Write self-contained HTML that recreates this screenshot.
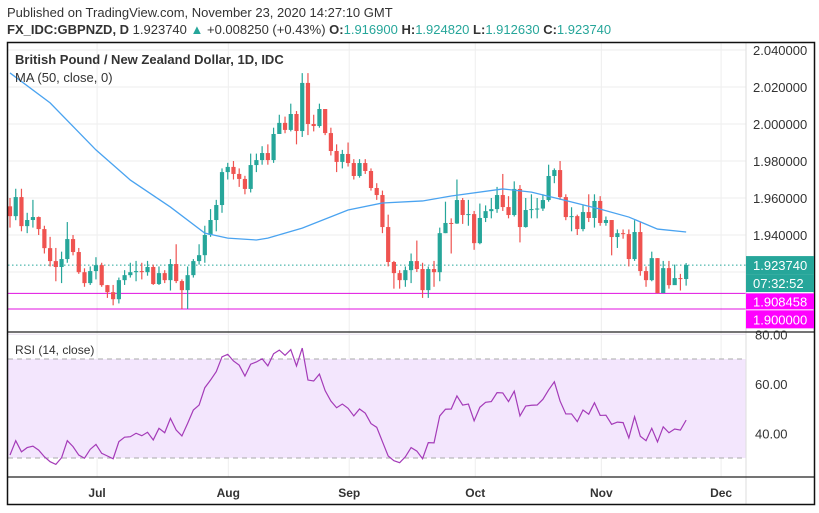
<!DOCTYPE html>
<html><head><meta charset="utf-8"><style>
html,body{margin:0;padding:0;background:#fff;}
svg{display:block;font-family:"Liberation Sans",sans-serif;}
</style></head><body>
<svg id="chart" width="819" height="513" viewBox="0 0 819 513" xmlns="http://www.w3.org/2000/svg">
<text x="7" y="17" font-size="13" fill="#333">Published on TradingView.com, November 23, 2020 14:27:10 GMT</text>
<text x="7" y="34" font-size="13" fill="#333"><tspan font-weight="bold">FX_IDC:GBPNZD, D</tspan> 1.923740 <tspan fill="#26a69a">▲</tspan> +0.008250 (+0.43%) <tspan font-weight="bold">O:</tspan><tspan fill="#26a69a">1.916900</tspan> <tspan font-weight="bold">H:</tspan><tspan fill="#26a69a">1.924820</tspan> <tspan font-weight="bold">L:</tspan><tspan fill="#26a69a">1.912630</tspan> <tspan font-weight="bold">C:</tspan><tspan fill="#26a69a">1.923740</tspan></text>
<g id="grid"></g>
<rect x="8" y="359" width="738" height="99" fill="#f3e6fd"/>
<line x1="8" x2="746" y1="359" y2="359" stroke="#aaa" stroke-dasharray="5,4"/>
<line x1="8" x2="746" y1="458" y2="458" stroke="#aaa" stroke-dasharray="5,4"/>
<g id="marks"></g>
<line x1="746" x2="746" y1="42" y2="505" stroke="#ddd"/>
<line x1="7" x2="815" y1="332" y2="332" stroke="#222" stroke-width="1.2"/>
<line x1="7" x2="815" y1="477" y2="477" stroke="#222" stroke-width="1.2"/>
<rect x="7.5" y="42.5" width="807" height="462" fill="none" stroke="#111" stroke-width="1.5"/>
<text x="15" y="64" font-size="13" font-weight="bold" fill="#333">British Pound / New Zealand Dollar, 1D, IDC</text>
<text x="15" y="82" font-size="13" fill="#333">MA (50, close, 0)</text>
<text x="15" y="354" font-size="12" fill="#333">RSI (14, close)</text>
<g id="labels"></g>
</svg>
<script>
const closes=[1.9502,1.9605,1.9448,1.9481,1.9497,1.9432,1.9329,1.9259,1.9227,1.9270,1.9378,1.9308,1.9199,1.9140,1.9205,1.9237,1.9129,1.9091,1.9053,1.9156,1.9183,1.9199,1.9205,1.9199,1.9227,1.9135,1.9194,1.9156,1.9243,1.9151,1.9102,1.9183,1.9259,1.9291,1.9400,1.9481,1.9562,1.9740,1.9768,1.9730,1.9703,1.9649,1.9778,1.9805,1.9843,1.9805,1.9946,2.0006,1.9968,2.0054,1.9962,2.0222,2.0000,1.9989,2.0081,1.9951,1.9854,1.9795,1.9838,1.9789,1.9719,1.9789,1.9746,1.9654,1.9616,1.9443,1.9254,1.9194,1.9156,1.9210,1.9259,1.9216,1.9102,1.9216,1.9199,1.9410,1.9465,1.9462,1.9589,1.9508,1.9513,1.9356,1.9492,1.9529,1.9540,1.9616,1.9551,1.9508,1.9649,1.9443,1.9535,1.9540,1.9543,1.9589,1.9719,1.9751,1.9605,1.9497,1.9502,1.9432,1.9524,1.9492,1.9584,1.9465,1.9481,1.9389,1.9410,1.9405,1.9270,1.9416,1.9205,1.9156,1.9275,1.9086,1.9221,1.9129,1.9167,1.9162,1.92374];
const highs=[1.9600,1.9650,1.9650,1.9520,1.9590,1.9500,1.9450,1.9390,1.9330,1.9310,1.9470,1.9400,1.9330,1.9220,1.9230,1.9280,1.9250,1.9130,1.9130,1.9170,1.9210,1.9250,1.9260,1.9250,1.9260,1.9240,1.9230,1.9210,1.9270,1.9350,1.9160,1.9230,1.9270,1.9350,1.9450,1.9540,1.9590,1.9760,1.9790,1.9800,1.9760,1.9720,1.9840,1.9840,1.9880,1.9890,1.9980,2.0050,2.0040,2.0110,2.0070,2.0275,2.0275,2.0050,2.0110,2.0080,1.9980,1.9890,1.9860,1.9900,1.9810,1.9810,1.9810,1.9760,1.9680,1.9640,1.9510,1.9260,1.9210,1.9230,1.9300,1.9370,1.9250,1.9230,1.9260,1.9440,1.9580,1.9490,1.9700,1.9600,1.9590,1.9530,1.9570,1.9560,1.9600,1.9660,1.9730,1.9610,1.9690,1.9670,1.9600,1.9620,1.9600,1.9620,1.9780,1.9760,1.9800,1.9620,1.9550,1.9510,1.9560,1.9620,1.9620,1.9610,1.9500,1.9480,1.9430,1.9430,1.9430,1.9480,1.9470,1.9230,1.9310,1.9275,1.9260,1.9260,1.9240,1.9190,1.92482];
const lows=[1.9440,1.9480,1.9420,1.9410,1.9440,1.9400,1.9300,1.9230,1.9150,1.9140,1.9250,1.9290,1.9190,1.9120,1.9130,1.9160,1.9120,1.9060,1.9020,1.9030,1.9130,1.9170,1.9150,1.9160,1.9180,1.9130,1.9130,1.9140,1.9100,1.9140,1.9000,1.9000,1.9170,1.9240,1.9250,1.9390,1.9420,1.9520,1.9700,1.9700,1.9660,1.9620,1.9630,1.9740,1.9780,1.9780,1.9790,1.9950,1.9950,1.9960,1.9890,1.9930,1.9940,1.9960,1.9980,1.9940,1.9830,1.9740,1.9760,1.9770,1.9700,1.9710,1.9730,1.9640,1.9590,1.9410,1.9230,1.9110,1.9110,1.9120,1.9140,1.9200,1.9060,1.9060,1.9120,1.9150,1.9410,1.9300,1.9460,1.9460,1.9450,1.9320,1.9350,1.9470,1.9490,1.9520,1.9530,1.9490,1.9500,1.9360,1.9440,1.9490,1.9490,1.9530,1.9580,1.9680,1.9590,1.9480,1.9420,1.9400,1.9420,1.9470,1.9440,1.9450,1.9450,1.9290,1.9330,1.9380,1.9230,1.9260,1.9180,1.9120,1.9150,1.9085,1.9090,1.9110,1.9130,1.9100,1.91263];
const firstOpen=1.9555;
const maBars=[1,8,16,22,29,35,39,44,46,52,60,66,73,78,87,92,97,104,109,114,119];
const maValues=[2.0276,2.0114,1.9860,1.9697,1.9551,1.9410,1.9383,1.9373,1.9383,1.9437,1.9535,1.9573,1.9584,1.9611,1.9649,1.9632,1.9594,1.9540,1.9497,1.9432,1.9416];
const rsi=[31.2,37.0,32.5,34.2,34.8,33.2,30.5,28.5,27.4,30.1,37.0,34.6,31.2,29.9,33.5,35.5,31.9,30.8,29.7,36.6,38.4,38.6,40.0,39.0,40.4,37.3,42.0,40.2,46.0,41.3,38.9,44.0,49.4,51.4,58.4,61.5,64.9,70.9,71.9,69.2,67.5,63.1,67.9,68.8,70.1,67.2,72.1,73.6,71.5,73.8,67.2,74.4,61.5,61.1,63.9,57.2,53.0,50.3,51.8,50.1,47.0,49.8,48.1,43.9,42.4,36.6,30.8,28.9,28.1,30.5,34.2,32.8,29.7,36.2,36.1,47.0,49.7,49.8,55.1,51.4,51.8,45.0,50.5,52.5,52.8,56.4,56.3,52.8,57.0,47.0,51.0,51.3,51.4,53.7,57.5,60.8,53.0,47.8,47.8,44.7,49.4,47.7,52.3,47.2,47.3,43.6,44.5,44.3,38.1,46.7,38.8,37.0,42.0,36.5,42.6,40.2,41.7,41.3,45.3];
const priceTicks=[2.04,2.02,2.00,1.98,1.96,1.94,1.92];
const priceTickLabels=["2.040000","2.020000","2.000000","1.980000","1.960000","1.940000",""];
const rsiTicks=[80,60,40];
const rsiTickLabels=["80.00","60.00","40.00"];
const monthLabels=["Jul","Aug","Sep","Oct","Nov","Dec"];
const monthBars=[16.2,39.1,60.2,82.2,104.2,125.1];
const lastPrice=1.92374, level1=1.908458, level2=1.9;

const NS="http://www.w3.org/2000/svg";
const xB=i=>10+(i-1)*5.73;
const yP=p=>235+(1.94-p)*1850;
const yR=v=>359+(70-v)*2.475;
function mk(tag,attrs,parent){const e=document.createElementNS(NS,tag);for(const k in attrs)e.setAttribute(k,attrs[k]);parent.appendChild(e);return e;}
const grid=document.getElementById('grid'),marks=document.getElementById('marks'),labels=document.getElementById('labels');

priceTicks.forEach((p,i)=>{
  const l=mk('line',{x1:8,x2:746,y1:yP(p),y2:yP(p),stroke:'#eeeeee'},grid);
  
  
  if(priceTickLabels[i]){
    const t=mk('text',{x:753,y:yP(p)+5,'font-size':13,fill:'#333'},labels);
    t.textContent=priceTickLabels[i];
    
    
  }
});
rsiTicks.forEach((v,i)=>{
  const l=mk('line',{x1:8,x2:746,y1:yR(v),y2:yR(v),stroke:'#e9e0ef'},grid);
  
  
  const t=mk('text',{x:755,y:yR(v)+5,'font-size':13,fill:'#333'},labels);
  t.textContent=rsiTickLabels[i];
  
  
});
monthBars.forEach((b,i)=>{
  const x=xB(b);
  const l=mk('line',{x1:x,x2:x,y1:43,y2:477,stroke:'#eeeeee'},grid);
  
  
  const t=mk('text',{x:x,y:497,'font-size':12,'font-weight':'bold',fill:'#333','text-anchor':'middle'},labels);
  t.textContent=monthLabels[i];
  
  
});

// horizontal levels
[level1,level2].forEach(p=>{
  const l=mk('line',{x1:8,x2:746,y1:yP(p),y2:yP(p),stroke:'#e010e0','stroke-width':1},marks);
  
  
});
const dl=mk('line',{x1:8,x2:746,y1:yP(lastPrice),y2:yP(lastPrice),stroke:'#26a69a','stroke-dasharray':'1.5,2.5'},marks);



// candles
closes.forEach((c,k)=>{
  const i=k+1,o=k===0?firstOpen:closes[k-1],x=xB(i);
  const up=c>=o,col=up?'#26a69a':'#ef5350';
  const g=mk('g',{},marks);
  
  
  mk('line',{x1:x,x2:x,y1:yP(highs[k]),y2:yP(lows[k]),stroke:col,'stroke-width':1.2},g);
  const top=yP(Math.max(o,c)),bot=yP(Math.min(o,c));
  mk('rect',{x:x-2.1,y:top,width:4.2,height:Math.max(1,bot-top),fill:col},g);
});

// MA
const ma=mk('polyline',{points:maBars.map((b,i)=>xB(b)+','+yP(maValues[i])).join(' '),fill:'none',stroke:'#4aa3f0','stroke-width':1.3},marks);



// RSI
const rl=mk('polyline',{points:rsi.map((v,k)=>xB(k+1)+','+yR(v)).join(' '),fill:'none',stroke:'#a43bb8','stroke-width':1.2},marks);



// price badges
function badge(y,h,fill,text,name){
  const g=mk('g',{},labels);
  
  
  mk('rect',{x:746,y:y,width:68,height:h,fill:fill},g);
  const t=mk('text',{x:753,y:y+h/2+5,'font-size':13,fill:'#fff'},g);
  t.textContent=text;
}
badge(yP(lastPrice)-9,18,'#26a69a','1.923740','last-price-badge');
badge(yP(lastPrice)+9,18,'#26a69a','07:32:52','countdown-badge');
badge(yP(level1),16,'#ff00ff','1.908458','level-badge-1');
badge(yP(level1)+17,18,'#ff00ff','1.900000','level-badge-2');
</script>
</body></html>
